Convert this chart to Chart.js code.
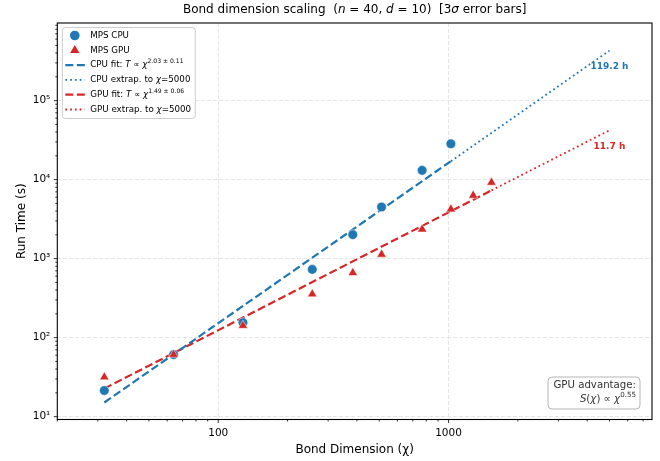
<!DOCTYPE html>
<html>
<head>
<meta charset="utf-8">
<script src="https://cdn.jsdelivr.net/npm/chart.js@4.4.1/dist/chart.umd.min.js"></script>
<style>
  html, body { margin: 0; padding: 0; background: #fff; }
</style>
</head>
<body>
<canvas id="chart" width="660" height="461"></canvas>
<script>
const cpuDims = [32, 64, 128, 256, 384, 512, 768, 1024];
const cpuTimes = [21.4, 61, 155, 730, 2010, 4500, 13100, 28400];
const gpuDims = [32, 64, 128, 256, 384, 512, 768, 1024, 1280, 1536];
const gpuTimes = [31.6, 61, 142, 355, 662, 1130, 2350, 4220, 6300, 9200];

// fit lines: end points only (straight in log-log)
const cpuFitX = [32, 1024];
const cpuFitY = [15.1, 17100];
const cpuExtrapX = [1024, 5000];
const cpuExtrapY = [17100, 429100];
const gpuFitX = [32, 1536];
const gpuFitY = [22.7, 7300];
const gpuExtrapX = [1536, 5000];
const gpuExtrapY = [7300, 42100];

// extrapolated run time labels at chi = 5000
const extrapLabels = ['119.2 h', '11.7 h'];

const xTickValues = [100, 1000];
const xTickLabels = ['100', '1000'];
const yTickValues = [10, 100, 1000, 10000, 100000];
const yTickLabels = ['10¹', '10²', '10³', '10⁴', '10⁵'];

const BLUE = '#1f77b4';
const RED = '#d62728';
const FONT = '"DejaVu Sans", sans-serif';

Chart.defaults.font.family = FONT;
Chart.defaults.color = '#000';

const toPts = (xs, ys) => xs.map((v, i) => ({x: v, y: ys[i]}));

// legend rows: [kind, color, text parts]
const legendRows = [
    ['circle', BLUE, [['MPS CPU', '']]],
    ['triangle', RED, [['MPS GPU', '']]],
    ['dash', BLUE, [['CPU fit: ', ''], ['T', 'i'], [' ∝ ', ''], ['χ', 'i'], ['2.03 ± 0.11', 's']]],
    ['dot', BLUE, [['CPU extrap. to ', ''], ['χ', 'i'], ['=5000', '']]],
    ['dash', RED, [['GPU fit: ', ''], ['T', 'i'], [' ∝ ', ''], ['χ', 'i'], ['1.49 ± 0.06', 's']]],
    ['dot', RED, [['GPU extrap. to ', ''], ['χ', 'i'], ['=5000', '']]]
];

const titleParts = [['Bond dimension scaling  (', ''], ['n', 'i'], [' = 40, ', ''], ['d', 'i'],
    [' = 10)  [3', ''], ['σ', 'i'], [' error bars]', '']];

const CIRCLE_R = 4.8;
const TRI_R = 5.4;

function drawRich(ctx, parts, x, y, size, align, color) {
    const fontFor = s => (s === 'i' ? 'italic ' : '') + (s === 's' ? size * 0.7 : size) + 'px ' + FONT;
    let w = 0;
    parts.forEach(([t, s]) => { ctx.font = fontFor(s); w += ctx.measureText(t).width; });
    let cx = align === 'right' ? x - w : (align === 'center' ? x - w / 2 : x);
    ctx.fillStyle = color;
    ctx.textAlign = 'left';
    ctx.textBaseline = 'middle';
    parts.forEach(([t, s]) => {
        ctx.font = fontFor(s);
        ctx.fillText(t, cx, s === 's' ? y - size * 0.42 : y);
        cx += ctx.measureText(t).width;
    });
}

function roundRect(ctx, x, y, w, h, r) {
    ctx.beginPath();
    ctx.moveTo(x + r, y);
    ctx.arcTo(x + w, y, x + w, y + h, r);
    ctx.arcTo(x + w, y + h, x, y + h, r);
    ctx.arcTo(x, y + h, x, y, r);
    ctx.arcTo(x, y, x + w, y, r);
    ctx.closePath();
}

function minorValues(min, max) {
    const out = [];
    for (let e = Math.floor(Math.log10(min)); e <= Math.ceil(Math.log10(max)); e++) {
        for (let k = 1; k <= 9; k++) {
            const v = k * Math.pow(10, e);
            if (v >= min * 0.999 && v <= max) out.push({v: v, major: k === 1});
        }
    }
    return out;
}

const decorPlugin = {
    id: 'decor',
    afterDraw(chart) {
        const {ctx, chartArea: a, scales: {x, y}} = chart;
        ctx.save();

        // frame
        ctx.strokeStyle = '#000';
        ctx.lineWidth = 1.1;
        ctx.strokeRect(a.left, a.top, a.right - a.left, a.bottom - a.top);

        // tick marks, matplotlib style (outside, major + minor)
        ctx.lineWidth = 0.8;
        ctx.beginPath();
        minorValues(x.min, x.max).forEach(t => {
            const px = x.getPixelForValue(t.v);
            ctx.moveTo(px, a.bottom);
            ctx.lineTo(px, a.bottom + (t.major ? 3.5 : 2));
        });
        minorValues(y.min, y.max).forEach(t => {
            const py = y.getPixelForValue(t.v);
            ctx.moveTo(a.left, py);
            ctx.lineTo(a.left - (t.major ? 3.5 : 2), py);
        });
        ctx.stroke();

        // title
        drawRich(ctx, titleParts, (a.left + a.right) / 2, 10, 12, 'center', '#000');

        // extrapolation labels
        ctx.font = 'bold 9px ' + FONT;
        ctx.textAlign = 'center';
        ctx.textBaseline = 'middle';
        [[cpuExtrapX, cpuExtrapY, BLUE], [gpuExtrapX, gpuExtrapY, RED]].forEach(([xs, ys, c], i) => {
            ctx.fillStyle = c;
            ctx.fillText(extrapLabels[i], x.getPixelForValue(xs[1]), y.getPixelForValue(ys[1]) + 16.5);
        });

        // legend
        const lx = a.left + 5, ly = a.top + 4.5;
        roundRect(ctx, lx, ly, 133, 91, 3);
        ctx.fillStyle = 'rgba(255,255,255,0.85)';
        ctx.fill();
        ctx.strokeStyle = '#cccccc';
        ctx.lineWidth = 1;
        ctx.stroke();
        legendRows.forEach(([kind, color, parts], i) => {
            const ry = ly + 8 + i * 14.8;
            const hx = lx + 3;
            ctx.fillStyle = color;
            ctx.strokeStyle = color;
            if (kind === 'circle') {
                ctx.beginPath();
                ctx.arc(hx + 9.5, ry, CIRCLE_R, 0, Math.PI * 2);
                ctx.fill();
            } else if (kind === 'triangle') {
                const r = TRI_R;
                ctx.beginPath();
                ctx.moveTo(hx + 9.5, ry - r);
                ctx.lineTo(hx + 9.5 + r * 0.866, ry + r / 2);
                ctx.lineTo(hx + 9.5 - r * 0.866, ry + r / 2);
                ctx.closePath();
                ctx.fill();
            } else {
                ctx.beginPath();
                ctx.lineWidth = kind === 'dash' ? 2.2 : 1.8;
                ctx.setLineDash(kind === 'dash' ? [8, 3.5] : [1.8, 3]);
                ctx.moveTo(hx, ry);
                ctx.lineTo(hx + 19.5, ry);
                ctx.stroke();
                ctx.setLineDash([]);
            }
            drawRich(ctx, parts, lx + 28, ry, 8.7, 'left', '#000');
        });

        // GPU advantage box
        const bx = 548, by = 377, bw = 92, bh = 32;
        roundRect(ctx, bx, by, bw, bh, 4);
        ctx.fillStyle = '#fff';
        ctx.fill();
        ctx.strokeStyle = '#b5b5b5';
        ctx.lineWidth = 1;
        ctx.stroke();
        drawRich(ctx, [['GPU advantage:', '']], bx + bw - 4, by + 8, 10.2, 'right', '#333');
        drawRich(ctx, [['S', 'i'], ['(', ''], ['χ', 'i'], [') ∝ ', ''], ['χ', 'i'], ['0.55', 's']],
            bx + bw - 4, by + 22.5, 10.2, 'right', '#333');

        ctx.restore();
    }
};

const lineDataset = (label, xs, ys, color, dotted) => ({
    label: label,
    data: toPts(xs, ys),
    showLine: true,
    pointRadius: 0,
    borderColor: color,
    borderWidth: dotted ? 1.8 : 2.2,
    borderDash: dotted ? [1.8, 3] : [8, 3.5],
    order: 2
});

const gridOpts = {
    color: '#dedede',
    lineWidth: 0.8,
    drawTicks: false
};

new Chart(document.getElementById('chart'), {
    type: 'scatter',
    data: {
        datasets: [
            {
                label: 'MPS GPU',
                data: toPts(gpuDims, gpuTimes),
                pointStyle: 'triangle',
                pointRadius: TRI_R,
                backgroundColor: RED,
                pointBorderColor: '#fff',
                pointBorderWidth: 0.5,
                order: 0
            },
            {
                label: 'MPS CPU',
                data: toPts(cpuDims, cpuTimes),
                pointStyle: 'circle',
                pointRadius: CIRCLE_R,
                backgroundColor: BLUE,
                pointBorderColor: '#fff',
                pointBorderWidth: 0.5,
                order: 1
            },
            lineDataset('CPU fit', cpuFitX, cpuFitY, BLUE, false),
            lineDataset('CPU extrap.', cpuExtrapX, cpuExtrapY, BLUE, true),
            lineDataset('GPU fit', gpuFitX, gpuFitY, RED, false),
            lineDataset('GPU extrap.', gpuExtrapX, gpuExtrapY, RED, true)
        ]
    },
    options: {
        responsive: false,
        animation: false,
        events: [],
        layout: {
            padding: {left: 0, right: 8, top: 23, bottom: 0}
        },
        plugins: {
            legend: {display: false},
            tooltip: {enabled: false}
        },
        scales: {
            x: {
                type: 'logarithmic',
                min: 20,
                max: 7650,
                bounds: 'data',
                afterBuildTicks: function(scale) {
                    scale.ticks = xTickValues.map(v => ({value: v}));
                },
                afterFit: function(scale) {
                    scale.height = 41.5;
                },
                grid: gridOpts,
                border: {display: false, dash: [4, 2]},
                ticks: {
                    padding: 7,
                    font: {size: 10.5},
                    color: '#000',
                    maxRotation: 0,
                    autoSkip: false,
                    callback: function(value, index) {
                        return xTickLabels[index];
                    }
                },
                title: {
                    display: true,
                    text: 'Bond Dimension (χ)',
                    font: {size: 12},
                    color: '#000',
                    padding: {top: 0, bottom: 3.5}
                }
            },
            y: {
                type: 'logarithmic',
                min: 9.2,
                max: 960000,
                bounds: 'data',
                afterBuildTicks: function(scale) {
                    scale.ticks = yTickValues.map(v => ({value: v}));
                },
                afterFit: function(scale) {
                    scale.width = 57.3;
                },
                grid: gridOpts,
                border: {display: false, dash: [4, 2]},
                ticks: {
                    padding: 7,
                    font: {size: 10.5},
                    color: '#000',
                    autoSkip: false,
                    callback: function(value, index) {
                        return yTickLabels[index];
                    }
                },
                title: {
                    display: true,
                    text: 'Run Time (s)',
                    font: {size: 12},
                    color: '#000',
                    padding: {top: 15, bottom: 0}
                }
            }
        }
    },
    plugins: [decorPlugin]
});
</script>
</body>
</html>
